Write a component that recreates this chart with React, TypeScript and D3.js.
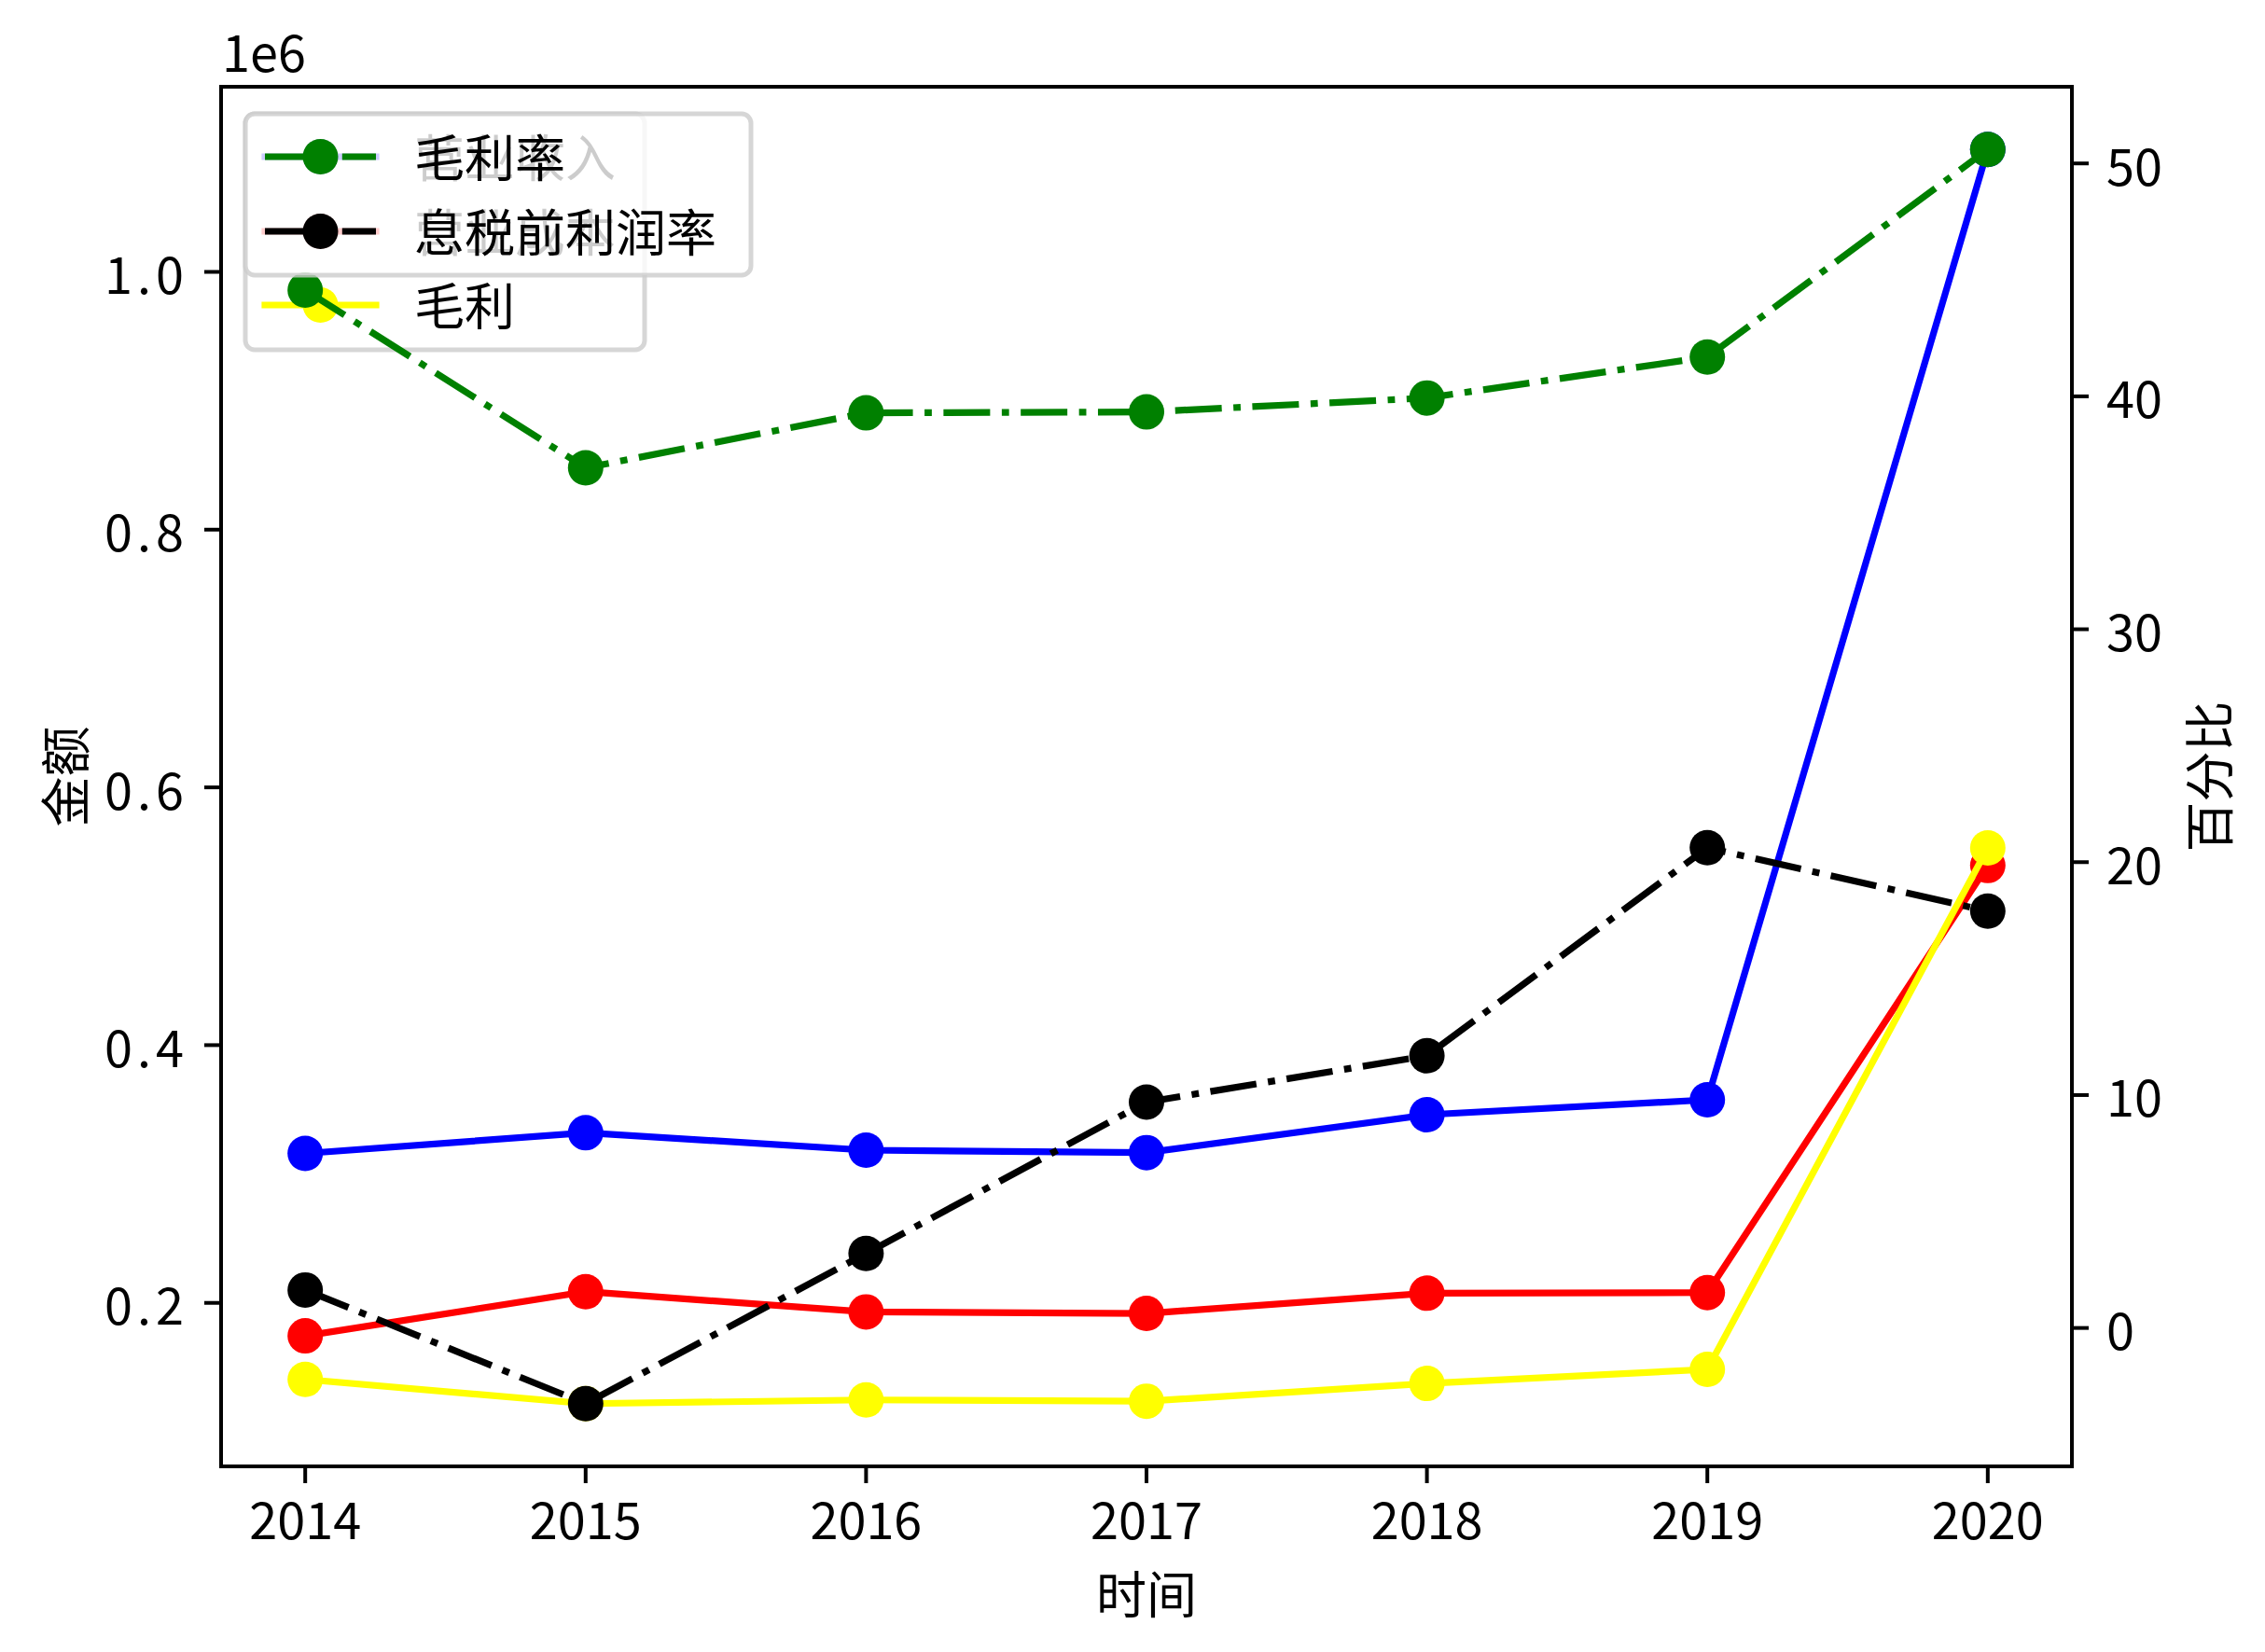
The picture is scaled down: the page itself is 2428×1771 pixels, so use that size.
import React from 'react';
import * as d3 from 'd3';

// ---------------- data ----------------
const years = [2014, 2015, 2016, 2017, 2018, 2019, 2020];
// amounts (left axis, units: yuan; axis shows 1e6 offset)
const revenue = [316000, 332000, 318500, 316600, 346000, 357600, 1095000]; // 营业收入
const cost = [174400, 208700, 193000, 191800, 207500, 208000, 539400]; // 营业成本
const grossProfit = [140600, 121800, 124700, 123700, 137500, 148400, 553000]; // 毛利
// percentages (right axis)
const grossMargin = [44.56, 36.93, 39.29, 39.33, 39.93, 41.69, 50.6]; // 毛利率
const ebitMargin = [1.63, -3.25, 3.2, 9.7, 11.69, 20.62, 17.9]; // 息税前利润率

const leftTicks = [200000, 400000, 600000, 800000, 1000000];
const rightTicks = [0, 10, 20, 30, 40, 50];

const leftSeries = [
  { name: '营业收入', values: revenue, color: '#0000ff', dashed: false },
  { name: '营业成本', values: cost, color: '#ff0000', dashed: false },
  { name: '毛利', values: grossProfit, color: '#ffff00', dashed: false },
];
const rightSeries = [
  { name: '毛利率', values: grossMargin, color: '#008000', dashed: true },
  { name: '息税前利润率', values: ebitMargin, color: '#000000', dashed: true },
];

// ---------------- layout ----------------
const W = 2428;
const H = 1771;
const L = 237;
const R = 2221;
const T = 93;
const B = 1572;
const FONT = "'Noto Sans CJK SC', 'Noto Sans', sans-serif";
const FS = 54;
const LW = 7.2;
const MR = 19;
const DASH = '50 12.5 7.8 12.5';
const TICK = 18;
const SPINE = 4;

function padDomain(vals: number[]): [number, number] {
  const mn = d3.min(vals) as number;
  const mx = d3.max(vals) as number;
  const p = (mx - mn) * 0.05;
  return [mn - p, mx + p];
}

export default function App() {
  const x = d3.scaleLinear().domain(padDomain(years)).range([L, R]);
  const yL = d3
    .scaleLinear()
    .domain(padDomain([...revenue, ...cost, ...grossProfit]))
    .range([B, T]);
  const yR = d3
    .scaleLinear()
    .domain(padDomain([...grossMargin, ...ebitMargin]))
    .range([B, T]);

  const lineL = d3
    .line<number>()
    .x((_, i) => x(years[i]))
    .y((d) => yL(d));
  const lineR = d3
    .line<number>()
    .x((_, i) => x(years[i]))
    .y((d) => yR(d));

  const renderSeries = (s: any, gen: any, sc: any) => (
    <g key={s.name}>
      <path
        d={gen(s.values) || ''}
        fill="none"
        stroke={s.color}
        strokeWidth={LW}
        strokeLinejoin="round"
        strokeLinecap={s.dashed ? 'butt' : 'square'}
        strokeDasharray={s.dashed ? DASH : undefined}
      />
      {s.values.map((v: number, i: number) => (
        <circle key={i} cx={x(years[i])} cy={sc(v)} r={MR} fill={s.color} />
      ))}
    </g>
  );

  const legendRows = [168, 248, 327];
  const renderLegend = (series: any[], x0: number, x1: number, y0: number, y1: number) => (
    <g>
      <rect
        x={x0}
        y={y0}
        width={x1 - x0}
        height={y1 - y0}
        rx={10}
        ry={10}
        fill="rgba(255,255,255,0.8)"
        stroke="rgba(204,204,204,0.8)"
        strokeWidth={5}
      />
      {series.map((s, i) => (
        <g key={s.name}>
          <line
            x1={284}
            x2={403}
            y1={legendRows[i]}
            y2={legendRows[i]}
            stroke={s.color}
            strokeWidth={LW}
            strokeLinecap={s.dashed ? 'butt' : 'square'}
            strokeDasharray={s.dashed ? DASH : undefined}
          />
          <circle cx={343.5} cy={legendRows[i]} r={MR} fill={s.color} />
          <text
            x={444}
            y={legendRows[i] - 2}
            fontSize={FS}
            fontFamily={FONT}
            dominantBaseline="central"
            fill="#000"
          >
            {s.name}
          </text>
        </g>
      ))}
    </g>
  );

  return (
    <div style={{ position: 'absolute', left: 0, top: 0 }}>
      <svg width={W} height={H} viewBox={`0 0 ${W} ${H}`} style={{ display: 'block', background: '#fff' }}>
        <defs>
          <clipPath id="plotClip">
            <rect x={L} y={T} width={R - L} height={B - T} />
          </clipPath>
        </defs>
        <rect x={0} y={0} width={W} height={H} fill="#fff" />

        {/* ax1 lines */}
        <g clipPath="url(#plotClip)">{leftSeries.map((s) => renderSeries(s, lineL, yL))}</g>
        {/* ax1 legend */}
        {renderLegend(leftSeries, 263, 691, 122, 375)}
        {/* ax2 lines */}
        <g clipPath="url(#plotClip)">{rightSeries.map((s) => renderSeries(s, lineR, yR))}</g>

        {/* spines */}
        <rect x={L} y={T} width={R - L} height={B - T} fill="none" stroke="#000" strokeWidth={SPINE} />

        {/* x ticks */}
        {years.map((yr) => (
          <g key={yr}>
            <line x1={x(yr)} x2={x(yr)} y1={B} y2={B + TICK} stroke="#000" strokeWidth={SPINE} />
            <text x={x(yr)} y={1650} textAnchor="middle" fontSize={FS} fontFamily={FONT} fill="#000">
              {yr}
            </text>
          </g>
        ))}
        {/* left ticks */}
        {leftTicks.map((t) => (
          <g key={t}>
            <line x1={L - TICK} x2={L} y1={yL(t)} y2={yL(t)} stroke="#000" strokeWidth={SPINE} />
            <text
              x={202}
              y={yL(t)}
              textAnchor="end"
              dominantBaseline="central"
              fontSize={FS}
              fontFamily={FONT}
              letterSpacing="5px"
              fill="#000"
            >
              {(t / 1e6).toFixed(1)}
            </text>
          </g>
        ))}
        {/* right ticks */}
        {rightTicks.map((t) => (
          <g key={t}>
            <line x1={R} x2={R + TICK} y1={yR(t)} y2={yR(t)} stroke="#000" strokeWidth={SPINE} />
            <text
              x={2258}
              y={yR(t)}
              textAnchor="start"
              dominantBaseline="central"
              fontSize={FS}
              fontFamily={FONT}
              fill="#000"
            >
              {t}
            </text>
          </g>
        ))}

        {/* offset text */}
        <text x={238} y={77} fontSize={FS} fontFamily={FONT} fill="#000">
          1e6
        </text>

        {/* axis labels */}
        <text x={(L + R) / 2} y={1706} textAnchor="middle" dominantBaseline="central" fontSize={FS} fontFamily={FONT} fill="#000">
          时间
        </text>
        <text
          transform={`translate(67, ${(T + B) / 2}) rotate(-90)`}
          textAnchor="middle"
          dominantBaseline="central"
          fontSize={FS}
          fontFamily={FONT}
          fill="#000"
        >
          金额
        </text>
        <text
          transform={`translate(2365, ${(T + B) / 2}) rotate(-90)`}
          textAnchor="middle"
          dominantBaseline="central"
          fontSize={FS}
          fontFamily={FONT}
          fill="#000"
        >
          百分比
        </text>

        {/* ax2 legend */}
        {renderLegend(rightSeries, 263, 805, 122, 295)}
      </svg>
    </div>
  );
}
